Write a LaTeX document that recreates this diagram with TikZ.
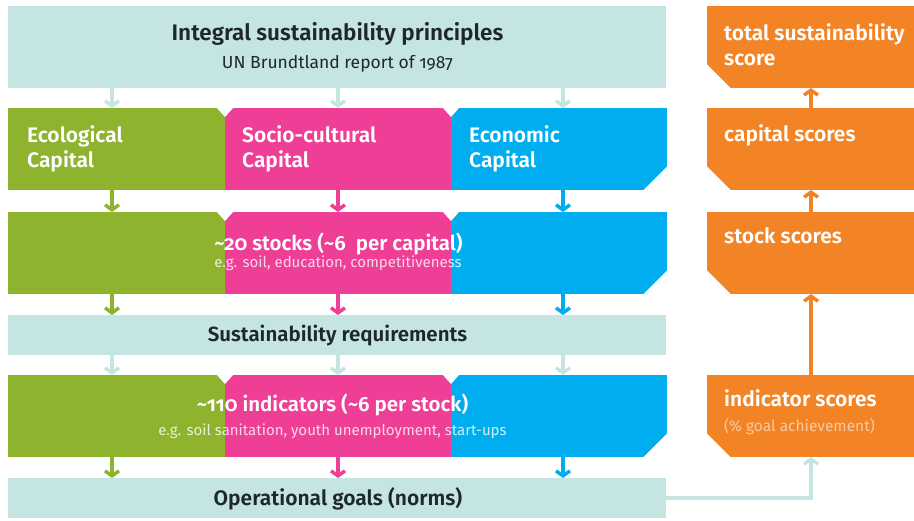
\documentclass[tikz,border=0pt]{standalone}
\usepackage{fontspec}
\setmainfont{Fira Sans}[Numbers=OldStyle, BoldFont={Fira Sans SemiBold}]
\usetikzlibrary{arrows.meta}
\definecolor{lteal}{HTML}{C4E5E2}
\definecolor{cgreen}{HTML}{8DB32F}
\definecolor{cpink}{HTML}{EE3E95}
\definecolor{cblue}{HTML}{00AEEF}
\definecolor{corange}{HTML}{F38425}
\definecolor{darktext}{HTML}{1F272D}
\definecolor{lorange}{HTML}{FAC8A0}
\begin{document}
\begin{tikzpicture}[x=1pt,y=-1pt,
  band/.style={inner sep=0pt, outer sep=0pt, draw=none, anchor=north west},
  arr/.style={line width=3.5pt, -{Straight Barb[length=5pt,width=14pt,line width=3.5pt]}},
  darklabel/.style={text=darktext, anchor=base, inner sep=0pt, font=\bfseries\fontsize{21}{24}\selectfont},
  caplabel/.style={text=white, align=left, anchor=base west, inner sep=0pt, font=\bfseries\fontsize{21}{25}\selectfont},
  midlabel/.style={text=white, anchor=base, inner sep=0pt, font=\bfseries\fontsize{20.5}{24}\selectfont},
  sublabel/.style={text=white, opacity=0.8, anchor=base, inner sep=0pt, font=\fontsize{15}{18}\selectfont},
  notch/.style={fill=white}
]
\useasboundingbox (0,0) rectangle (914,520);

% light bands
\node[band, fill=lteal, minimum width=658pt, minimum height=82pt] (top) at (8,6) {};
\node[band, fill=lteal, minimum width=658pt, minimum height=40pt] (req) at (8,315) {};
\node[band, fill=lteal, minimum width=658pt, minimum height=40pt] (goals) at (8,478) {};

% capital row
\node[band, fill=cgreen, minimum width=217pt, minimum height=82pt] (g1) at (8,108) {};
\node[band, fill=cpink, minimum width=226pt, minimum height=82pt] (p1) at (225,108) {};
\node[band, fill=cblue, minimum width=216pt, minimum height=82pt] (b1) at (451,108) {};
% stocks row
\node[band, fill=cgreen, minimum width=217pt, minimum height=82pt] (g2) at (8,212) {};
\node[band, fill=cpink, minimum width=226pt, minimum height=82pt] (p2) at (225,212) {};
\node[band, fill=cblue, minimum width=216pt, minimum height=82pt] (b2) at (451,212) {};
% indicators row
\node[band, fill=cgreen, minimum width=217pt, minimum height=82pt] (g3) at (8,375) {};
\node[band, fill=cpink, minimum width=226pt, minimum height=82pt] (p3) at (225,375) {};
\node[band, fill=cblue, minimum width=216pt, minimum height=82pt] (b3) at (451,375) {};

% orange score boxes
\node[band, fill=corange, minimum width=208pt, minimum height=82pt] (o1) at (707,6) {};
\node[band, fill=corange, minimum width=208pt, minimum height=82pt] (o2) at (707,108) {};
\node[band, fill=corange, minimum width=208pt, minimum height=82pt] (o3) at (707,212) {};
\node[band, fill=corange, minimum width=208pt, minimum height=82pt] (o4) at (707,375) {};

% notches and chamfers
\foreach \y in {108,212,375} {
  \fill[notch] (216.5,\y-0.5) -- (233.5,\y-0.5) -- (225,\y+9) -- cycle;
  \fill[notch] (442.5,\y-0.5) -- (459.5,\y-0.5) -- (451,\y+9) -- cycle;
  \fill[notch] (667.5,\y+58) -- (667.5,\y+82.5) -- (643,\y+82.5) -- cycle;
}
\foreach \y in {6,108,212,375} {
  \fill[notch] (706.5,\y+58) -- (706.5,\y+82.5) -- (731,\y+82.5) -- cycle;
}

% texts
\node[darklabel, font=\bfseries\fontsize{22.5}{26}\selectfont] (ttitle) at (337.5,40.5) {Integral sustainability principles};
\node[text=darktext, anchor=base, inner sep=0pt, font=\fontsize{17.5}{20}\selectfont] (tsub) at (337.5,68) {UN Brundtland report of 1987};

\node[caplabel] (lg) at (27,167) {Ecological\\Capital};
\node[caplabel] (lp) at (242,167) {Socio-cultural\\Capital};
\node[caplabel] (lb) at (469,167) {Economic\\Capital};

\node[midlabel] (stocks) at (338.5,250) {\textasciitilde 20 stocks (\textasciitilde 6\ \ per capital)};
\node[sublabel] (stocksub) at (338,267) {e.g. soil, education, competitiveness};

\node[darklabel, font=\bfseries\fontsize{20.5}{24}\selectfont] (treq) at (337.5,341) {Sustainability requirements};

\node[midlabel] (ind) at (332.5,411.5) {\textasciitilde 110 indicators (\textasciitilde 6 per stock)};
\node[sublabel] (indsub) at (332.5,435) {e.g. soil sanitation, youth unemployment, start-ups};

\node[darklabel] (tgoals) at (338,505) {Operational goals (norms)};

\node[caplabel] (lo1) at (724,65) {total sustainability\\score};
\node[caplabel] (lo2) at (724,141.5) {capital scores};
\node[caplabel] (lo3) at (724,243.5) {stock scores};
\node[caplabel] (lo4) at (724,406.5) {indicator scores};
\node[text=lorange, anchor=base west, inner sep=0pt, font=\fontsize{15.5}{18}\selectfont] (lo4s) at (724,431.5) {(\% goal achievement)};

% arrows: top band -> capitals
\draw[arr, lteal] (top.south -| 112,0) -- (g1.north -| 112,0);
\draw[arr, lteal] (top.south -| p1.north) -- (p1.north);
\draw[arr, lteal] (top.south -| 563,0) -- (b1.north -| 563,0);
% capitals -> stocks
\draw[arr, cgreen] (g1.south -| 112,0) -- (g2.north -| 112,0);
\draw[arr, cpink] (p1.south) -- (p2.north);
\draw[arr, cblue] (b1.south -| 563,0) -- (b2.north -| 563,0);
% stocks -> requirements
\draw[arr, cgreen] (g2.south -| 112,0) -- (req.north -| 112,0);
\draw[arr, cpink] (p2.south) -- (req.north -| p2.south);
\draw[arr, cblue] (b2.south -| 563,0) -- (req.north -| 563,0);
% requirements -> indicators
\draw[arr, lteal] (req.south -| 112,0) -- (g3.north -| 112,0);
\draw[arr, lteal] (req.south -| p3.north) -- (p3.north);
\draw[arr, lteal] (req.south -| 563,0) -- (b3.north -| 563,0);
% indicators -> goals
\draw[arr, cgreen] (g3.south -| 112,0) -- (goals.north -| 112,0);
\draw[arr, cpink] (p3.south) -- (goals.north -| p3.south);
\draw[arr, cblue] (b3.south -| 563,0) -- (goals.north -| 563,0);

% score chain
\draw[arr, lteal] (goals.east) -- (goals.east -| o4.south) -- (o4.south);
\draw[arr, corange] (o4.north) -- (o3.south);
\draw[arr, corange] (o3.north) -- (o2.south);
\draw[arr, corange] (o2.north) -- (o1.south);
\end{tikzpicture}
\end{document}
